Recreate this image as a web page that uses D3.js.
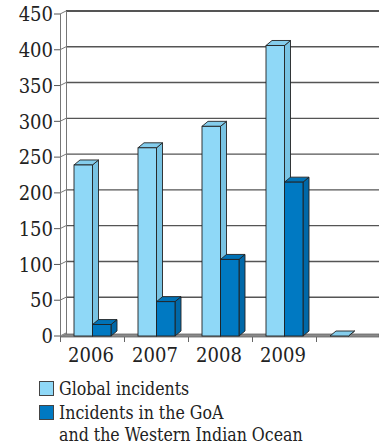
<!DOCTYPE html>
<html>
<head>
<meta charset="utf-8">
<script src="https://cdn.jsdelivr.net/npm/d3@7"></script>
<style>
  body { margin: 0; background: #fff; }
  text { font-family: 'DejaVu Serif Condensed', 'DejaVu Serif', serif; font-stretch: condensed; fill: #222; }
</style>
</head>
<body>
<svg width="379" height="445"></svg>
<script>
var years = ['2006', '2007', '2008', '2009', ''];
var globalIncidents = [239, 263, 293, 406, 0];
var goaIncidents = [16, 48, 107, 215, null];
var yTicks = [0, 50, 100, 150, 200, 250, 300, 350, 400, 450];
var seriesNames = ['Global incidents', 'Incidents in the GoA', 'and the Western Indian Ocean'];

var svg = d3.select('svg');

// depth offset of the 3d look
var dx = 6, dy = -5;

var x = d3.scaleBand().domain(years).range([60, 380]);
var y = d3.scaleLinear().domain([0, 450]).range([336, 14]);
var inner = d3.scaleBand().domain(['global', 'goa']).range([14, 51]);

var colors = {
  global: { front: '#8fd8f7', side: '#78c3e3', top: '#84cdec' },
  goa: { front: '#0079c2', side: '#0068a8', top: '#0072b6' }
};

// back wall gridlines + diagonal on left wall
var grid = svg.append('g');
grid.selectAll('line.back')
  .data(yTicks.filter(function(d) { return d > 0; }))
  .enter()
  .append('line')
  .attr('x1', 60 + dx)
  .attr('x2', 379)
  .attr('y1', function(d) { return y(d) - 3; })
  .attr('y2', function(d) { return y(d) - 3; })
  .attr('stroke', '#555')
  .attr('stroke-width', function(d) { return d == 450 ? 2 : 1.4; });

grid.selectAll('line.diag')
  .data(yTicks)
  .enter()
  .append('line')
  .attr('x1', 60)
  .attr('x2', 60 + dx)
  .attr('y1', function(d) { return y(d); })
  .attr('y2', function(d) { return y(d) - 3; })
  .attr('stroke', '#777')
  .attr('stroke-width', 1);

// left walls
grid.append('line').attr('x1', 60.5).attr('x2', 60.5).attr('y1', y(450)).attr('y2', y(0) + 1)
  .attr('stroke', '#777');
grid.append('line').attr('x1', 66.5).attr('x2', 66.5).attr('y1', y(450) - 3).attr('y2', y(0) - 2)
  .attr('stroke', '#777');

// floor
svg.append('path')
  .attr('d', 'M60,' + (y(0) + 1) + 'L379,' + (y(0) + 1) + 'L379,' + (y(0) - 2) + 'L66,' + (y(0) - 2) + 'Z')
  .attr('fill', '#8a8a8a')
  .attr('stroke', '#666')
  .attr('stroke-width', 0.8);

// y axis ticks + labels
var yAxis = svg.append('g');
yAxis.selectAll('line')
  .data(yTicks)
  .enter()
  .append('line')
  .attr('x1', 54)
  .attr('x2', 60)
  .attr('y1', function(d) { return y(d); })
  .attr('y2', function(d) { return y(d); })
  .attr('stroke', '#555');
yAxis.selectAll('text')
  .data(yTicks)
  .enter()
  .append('text')
  .attr('x', 53)
  .attr('y', function(d) { return y(d); })
  .attr('dy', '0.36em')
  .attr('text-anchor', 'end')
  .attr('font-size', 20)
  .text(function(d) { return d; });

// x ticks + labels
var xAxis = svg.append('g');
xAxis.selectAll('line')
  .data(years)
  .enter()
  .append('line')
  .attr('x1', function(d) { return x(d) + 0.5; })
  .attr('x2', function(d) { return x(d) + 0.5; })
  .attr('y1', y(0) + 1)
  .attr('y2', y(0) + 6)
  .attr('stroke', '#666');
xAxis.selectAll('text')
  .data(years)
  .enter()
  .append('text')
  .attr('x', function(d) { return x(d) + x.bandwidth() / 2 - 1; })
  .attr('y', 362)
  .attr('text-anchor', 'middle')
  .attr('font-size', 20)
  .text(function(d) { return d; });

// bars
var bars = [];
years.forEach(function(yr, i) {
  if (globalIncidents[i] != null) bars.push({ cat: yr, key: 'global', v: globalIncidents[i] });
  if (goaIncidents[i] != null) bars.push({ cat: yr, key: 'goa', v: goaIncidents[i] });
});

var bw = inner.bandwidth();
var barG = svg.selectAll('g.bar')
  .data(bars)
  .enter()
  .append('g');

barG.each(function(d) {
  var g = d3.select(this);
  var x0 = x(d.cat) + inner(d.key);
  var x1 = x0 + bw;
  var yt = y(d.v);
  var yb = y(0);
  var c = colors[d.key];
  // side
  g.append('path')
    .attr('d', 'M' + x1 + ',' + yb + 'L' + (x1 + dx) + ',' + (yb + dy) + 'L' + (x1 + dx) + ',' + (yt + dy) + 'L' + x1 + ',' + yt + 'Z')
    .attr('fill', c.side).attr('stroke', '#222').attr('stroke-width', 0.9).attr('stroke-linejoin', 'round');
  // top
  g.append('path')
    .attr('d', 'M' + x0 + ',' + yt + 'L' + x1 + ',' + yt + 'L' + (x1 + dx) + ',' + (yt + dy) + 'L' + (x0 + dx) + ',' + (yt + dy) + 'Z')
    .attr('fill', c.top).attr('stroke', '#222').attr('stroke-width', 0.9).attr('stroke-linejoin', 'round');
  // front
  if (d.v > 0) {
    g.append('rect')
      .attr('x', x0).attr('y', yt)
      .attr('width', bw).attr('height', yb - yt)
      .attr('fill', c.front).attr('stroke', '#222').attr('stroke-width', 0.9);
  }
});

// legend
var legend = svg.append('g');
legend.selectAll('rect')
  .data(['global', 'goa'])
  .enter()
  .append('rect')
  .attr('x', 39.5)
  .attr('y', function(d, i) { return 381.5 + i * 24; })
  .attr('width', 14)
  .attr('height', 14)
  .attr('fill', function(d) { return colors[d].front; })
  .attr('stroke', '#444')
  .attr('stroke-width', 1);
legend.selectAll('text')
  .data(seriesNames)
  .enter()
  .append('text')
  .attr('x', 59)
  .attr('y', function(d, i) { return [395, 419, 441][i]; })
  .attr('font-size', 17.6)
  .text(function(d) { return d; });
</script>
</body>
</html>
